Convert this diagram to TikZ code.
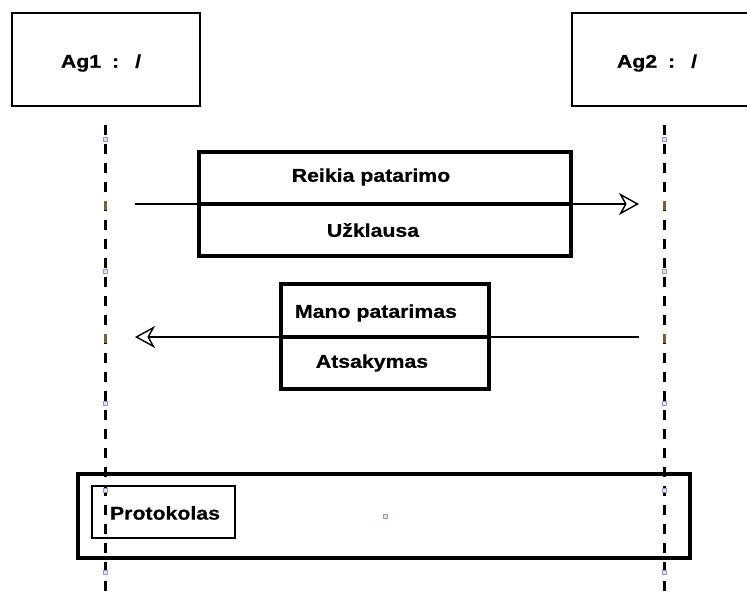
\documentclass[tikz,border=0pt]{standalone}
\usepackage{fontspec}
\setmainfont{Liberation Sans}[FakeStretch=1.15, BoldFeatures={FakeBold=0.6}]
\usetikzlibrary{arrows.meta}

\definecolor{handleedge}{RGB}{150,150,210}
\definecolor{handlefill}{RGB}{225,225,248}
\definecolor{anchordash}{RGB}{110,105,50}

\tikzset{
  lbl/.style={font=\fontsize{18.5}{20}\selectfont\bfseries, inner sep=0pt},
  agentbox/.style={draw, line width=2pt, minimum width=188pt, minimum height=93pt, inner sep=0pt},
  msgpart/.style={draw, line width=3.4pt, inner sep=0pt},
  lifeline/.style={line width=3pt, dash pattern=on 10pt off 9pt},
  msgline/.style={line width=1.6pt, -{Stealth[open, length=20pt, width=22pt, inset=6pt, line width=1.4pt]}},
  framebox/.style={draw, line width=3.6pt, inner sep=0pt},
  framelabel/.style={draw, line width=2pt, inner sep=0pt},
  handle/.style={draw=handleedge, fill=handlefill, line width=0.6pt, minimum size=4pt, inner sep=0pt},
  anchormark/.style={fill=anchordash, minimum width=3pt, minimum height=9pt, inner sep=0pt}
}

\begin{document}
\begin{tikzpicture}[x=1pt, y=-1pt]
\clip (0,0) rectangle (747,599);
\fill[white] (0,0) rectangle (747,599);

% agents
\node[agentbox] (ag1) at (106,59.5) {};
\node[lbl] (ag1t) at (101,63) {Ag1\hspace{11pt}:\hspace{16pt}/};
\node[agentbox, minimum width=200pt] (ag2) at (672,59.5) {};
\node[lbl] (ag2t) at (657,63) {Ag2\hspace{11pt}:\hspace{16pt}/};

% lifelines
\coordinate (l1top) at (105,125);
\coordinate (l1bot) at (105,599);
\coordinate (l2top) at (664,125);
\coordinate (l2bot) at (664,599);
\draw[lifeline] (l1top) -- (l1bot);
\draw[lifeline] (l2top) -- (l2bot);

% first message: Ag1 -> Ag2
\coordinate (s1) at (135,204);
\coordinate (e1) at (639,204);
\draw[msgline] (s1) -- (e1);
\node[msgpart, minimum width=372pt, minimum height=52pt] (m1a) at (385,178) {};
\node[msgpart, minimum width=372pt, minimum height=52pt] (m1b) at (385,230) {};
\node[lbl] (m1at) at (371,177) {Reikia patarimo};
\node[lbl] (m1bt) at (373,230) {Užklausa};

% second message: Ag2 -> Ag1
\coordinate (s2) at (639,337);
\coordinate (e2) at (135,337);
\draw[msgline] (s2) -- (e2);
\node[msgpart, minimum width=208pt, minimum height=53pt] (m2a) at (385,310.5) {};
\node[msgpart, minimum width=208pt, minimum height=52pt] (m2b) at (385,363) {};
\node[lbl] (m2at) at (376,313) {Mano patarimas};
\node[lbl] (m2bt) at (372,363) {Atsakymas};

% protocol frame
\node[framebox, minimum width=612pt, minimum height=84pt] (proto) at (384,516) {};
\node[framelabel, minimum width=143pt, minimum height=52pt] (protolbl) at (163.5,512) {};
\node[lbl] (protot) at (165,513) {Protokolas};

% anchor marks on the lifelines
\foreach \x/\n in {105/a, 664/b} {
  \node[anchormark] (am1\n) at (\x,205) {};
  \node[anchormark] (am2\n) at (\x,338) {};
  \foreach \y/\k in {139/1, 271/2, 403/3, 490/4, 572/5}
    \node[handle] (h\k\n) at (\x,\y) {};
}
\node[handle] (hc) at (385,516) {};
\end{tikzpicture}
\end{document}
